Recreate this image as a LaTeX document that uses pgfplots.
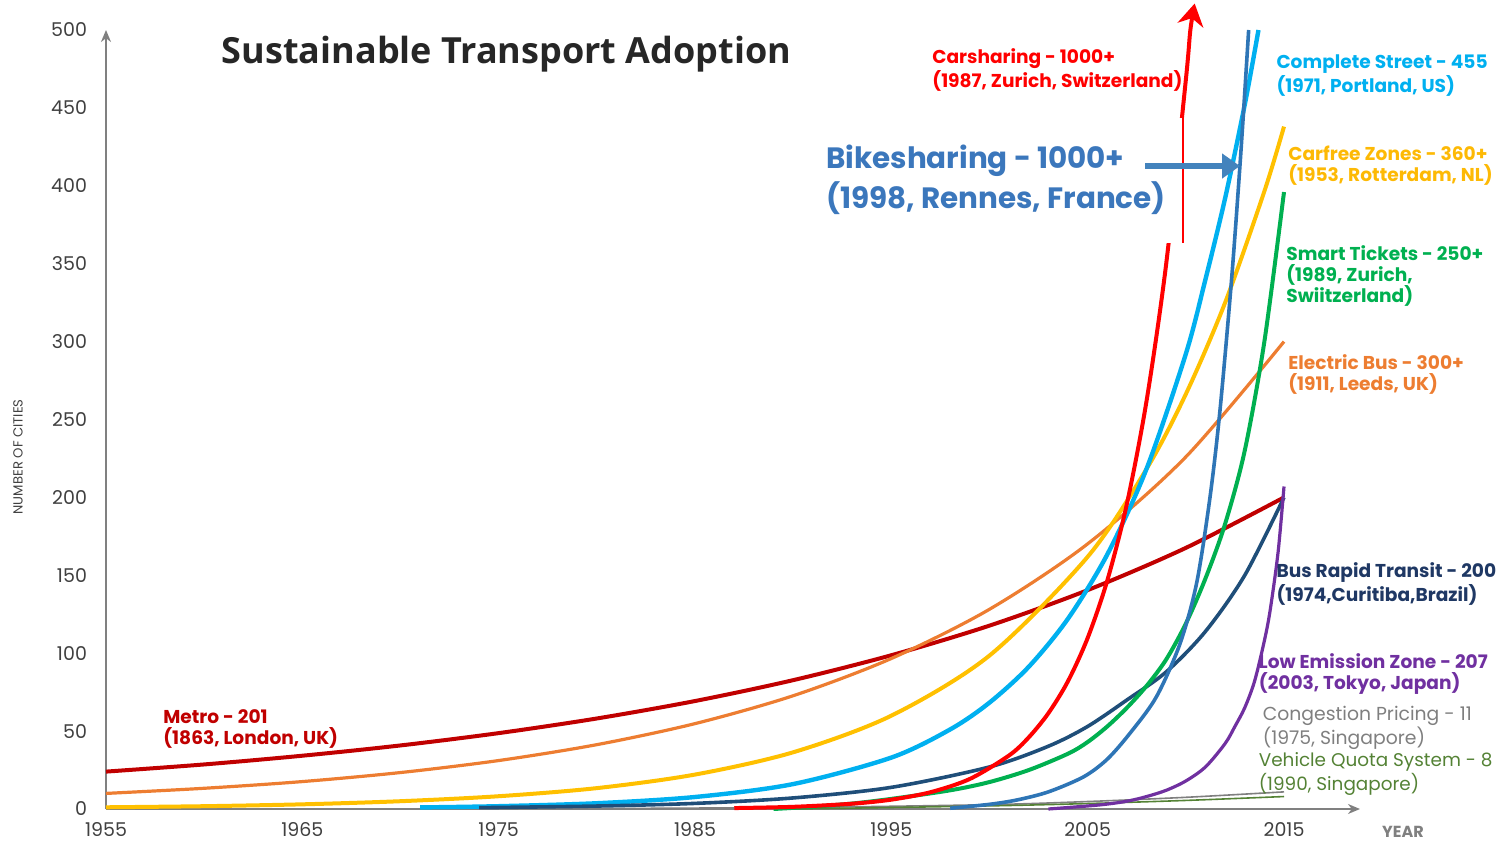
\documentclass[border=0pt]{standalone}
\usepackage{pgfplots}
\pgfplotsset{compat=1.18}
\usepackage{fontspec}
\setmainfont{Poppins}
\newfontfamily\titlefont{Open Sans}
\usetikzlibrary{arrows.meta}
\definecolor{metro}{HTML}{C00000}
\definecolor{ebus}{HTML}{ED7D31}
\definecolor{carfree}{HTML}{FFC000}
\definecolor{cstreet}{HTML}{00B0F0}
\definecolor{carshare}{HTML}{FF0000}
\definecolor{bike}{HTML}{2E75B6}
\definecolor{biketext}{HTML}{3B77BC}
\definecolor{smart}{HTML}{00B050}
\definecolor{brt}{HTML}{1F4E79}
\definecolor{brttext}{HTML}{1F3864}
\definecolor{lez}{HTML}{7030A0}
\definecolor{cong}{HTML}{7F7F7F}
\definecolor{quota}{HTML}{548235}
\definecolor{axisgray}{HTML}{808080}
\definecolor{ticktext}{HTML}{404040}
\begin{document}
\begin{tikzpicture}[x=1pt,y=1pt]
\useasboundingbox (-53,-16.5) rectangle (697.5,404.5);
\begin{axis}[
  at={(0,0)}, anchor=south west,
  scale only axis, width=627pt, height=389.5pt,
  xmin=1955, xmax=2018.87, ymin=0, ymax=500,
  clip=false,
  axis x line=bottom, axis y line=left,
  axis line style={draw=axisgray, line width=1.2pt, -{Stealth[length=6pt,width=5pt]}},
  xtick={1955,1965,1975,1985,1995,2005,2015},
  ytick={0,50,...,500},
  major tick length=0pt,
  /pgf/number format/assume math mode=true,
  xticklabel={\pgfmathprintnumber[1000 sep={}]{\tick}},
  tick label style={font=\fontsize{9.5}{11}\selectfont, text=ticktext},
  xticklabel style={inner sep=0pt, text depth=0pt, yshift=-6.5pt},
  yticklabel style={xshift=-6pt},
  every axis plot/.append style={no markers, smooth},
]
% Congestion pricing
\addplot[cong, line width=0.8pt] coordinates {(1975,0) (1990,1) (2000,2.8) (2005,4.8) (2010,7.5) (2015,11)};
% Vehicle quota
\addplot[quota, line width=0.8pt] coordinates {(1990,0) (2000,2) (2005,3.5) (2010,5.5) (2015,8)};
% Metro
\addplot[metro, line width=2pt] coordinates {(1955,24.0) (1960,28.6) (1965,34.2) (1970,40.8) (1975,48.7) (1980,58.1) (1985,69.3) (1990,82.7) (1995,98.7) (2000,117.7) (2005,140.5) (2010,167.6) (2015,200)};
% Electric bus
\addplot[ebus, line width=1.6pt] coordinates {(1955,10) (1960,13.3) (1965,17.6) (1970,23.4) (1975,31.1) (1980,41.3) (1985,54.8) (1990,72.7) (1995,96.6) (2000,128.2) (2005,170.2) (2010,226.0) (2015,300)};
% Carfree zones
\addplot[carfree, line width=2pt] coordinates {(1955,1.1) (1960,1.8) (1965,3.0) (1970,5.0) (1975,8.2) (1980,13.4) (1985,22.1) (1990,36.4) (1995,59.9) (2000,98.5) (2005,161.9) (2008,218.3) (2010,266.3) (2012,325) (2014,396.5) (2015,438)};
% Complete street
\addplot[cstreet, line width=2.2pt] coordinates {(1971,1.0) (1975,1.8) (1980,3.7) (1985,7.7) (1990,16.0) (1995,33.0) (1998,51.1) (2000,68.3) (2002,91.3) (2004,122.2) (2006,163.4) (2008,218.4) (2010,292.1) (2011,340) (2012,392) (2013,452) (2013.7,500)};
% Bus rapid transit
\addplot[brt, line width=1.8pt] coordinates {(1974,0.84) (1980,1.9) (1985,3.6) (1990,7.1) (1995,13.9) (2000,27.0) (2003,40.3) (2005,53) (2007,70) (2009,88) (2011,114) (2013,150) (2015,200)};
% Smart tickets
\addplot[smart, line width=2pt] coordinates {(1989,0) (1991,1.5) (1993,3.5) (1995,6.5) (1998,12) (2000,17.3) (2002,25) (2004,35.5) (2005,43) (2006,53) (2007,65) (2008,79) (2009,96) (2010,119) (2011,148) (2012,183) (2013,230) (2014,300) (2015,396)};
% Bikesharing
\addplot[bike, line width=1.8pt] coordinates {(1998,0.5) (2000,3) (2001.4,5.8) (2003,11) (2004.8,20.7) (2006,32) (2007.16,48.7) (2008.5,72) (2009.7,106) (2010.55,145) (2011.23,200) (2011.74,256) (2012.33,340) (2012.8,421) (2013.2,500)};
% Low emission zone
\addplot[lez, line width=1.6pt] coordinates {(2003,0) (2005.6,2.6) (2007,5) (2008,8) (2009,12) (2010,18) (2011,27) (2012,42) (2012.5,53) (2013,65) (2013.5,82) (2014,108) (2014.3,128) (2014.7,165) (2015,207)};
% Carsharing
\addplot[carshare, line width=2pt, -{Stealth[length=11pt,width=13pt]}] coordinates {(1987,0.6) (1990,1.4) (1993,3.4) (1995,6.0) (1997,10.8) (1999,19.3) (2001,34.4) (2002,46.0) (2003,61.5) (2004,82.1) (2005,109.8) (2006,146.7) (2007,196.0) (2008,262) (2009,350) (2010,468) (2010.23,500) (2010.45,517)};

% white box over the red line
\fill[white] (axis cs:1991.11,443.5) rectangle (axis cs:2009.86,363.3);
\draw[carshare, line width=0.9pt] (axis cs:2009.84,443.5) -- (axis cs:2009.84,363.3);

% labels
\node[anchor=center, font=\titlefont\bfseries\fontsize{18}{22}\selectfont, text=black!85] at (axis cs:1975.4,484.6) {Sustainable Transport Adoption};
\node[anchor=west, align=left, inner sep=0pt, font=\bfseries\fontsize{9.3}{10.5}\selectfont, text=metro] at (axis cs:1957.9,51.3) {Metro - 201\\(1863, London, UK)};
\node[anchor=west, align=left, inner sep=0pt, font=\bfseries\fontsize{9.3}{10.5}\selectfont, text=carshare] at (axis cs:1997.07,474.3) {Carsharing - 1000+\\(1987, Zurich, Switzerland)};
\node[anchor=west, align=left, inner sep=0pt, font=\bfseries\fontsize{9.3}{10.5}\selectfont, text=cstreet] at (axis cs:2014.6,471) {Complete Street - 455\\(1971, Portland, US)};
\node[anchor=west, align=left, inner sep=0pt, font=\bfseries\fontsize{14.7}{20}\selectfont, text=biketext] at (axis cs:1991.67,403.7) {Bikesharing - 1000+\\(1998, Rennes, France)};
\draw[bike!90!white, line width=3pt, -{Triangle[length=9pt,width=12pt]}] (axis cs:2007.92,412.7) -- (axis cs:2012.76,412.7);
\node[anchor=west, align=left, inner sep=0pt, font=\bfseries\fontsize{9.3}{10.5}\selectfont, text=carfree!90!ebus] at (axis cs:2015.2,413) {Carfree Zones - 360+\\(1953, Rotterdam, NL)};
\node[anchor=west, align=left, inner sep=0pt, font=\bfseries\fontsize{9.3}{10.5}\selectfont, text=smart] at (axis cs:2015.1,342) {Smart Tickets - 250+\\(1989, Zurich,\\Swiitzerland)};
\node[anchor=west, align=left, inner sep=0pt, font=\bfseries\fontsize{9.3}{10.5}\selectfont, text=ebus] at (axis cs:2015.2,278.6) {Electric Bus - 300+\\(1911, Leeds, UK)};
\node[anchor=west, align=left, inner sep=0pt, font=\bfseries\fontsize{9.3}{10.5}\selectfont, text=brttext] at (axis cs:2014.6,144.4) {Bus Rapid Transit - 200\\(1974,Curitiba,Brazil)};
\node[anchor=west, align=left, inner sep=0pt, font=\bfseries\fontsize{9.3}{10.5}\selectfont, text=lez] at (axis cs:2013.7,86.6) {Low Emission Zone - 207\\(2003, Tokyo, Japan)};
\node[anchor=west, align=left, inner sep=0pt, font=\fontsize{9.4}{10.5}\selectfont, text=cong] at (axis cs:2013.9,52) {Congestion Pricing - 11\\(1975, Singapore)};
\node[anchor=west, align=left, inner sep=0pt, font=\fontsize{9.2}{10.5}\selectfont, text=quota] at (axis cs:2013.7,22.5) {Vehicle Quota System - 8\\(1990, Singapore)};
\node[anchor=center, inner sep=0pt, font=\bfseries\fontsize{8}{9}\selectfont, text=axisgray] at (axis cs:2021.06,-14.5) {YEAR};
\node[anchor=center, rotate=90, inner sep=0pt, font=\fontsize{6.6}{7}\selectfont, text=ticktext] at (axis cs:1950.52,226) {NUMBER OF CITIES};
\end{axis}
\end{tikzpicture}
\end{document}
